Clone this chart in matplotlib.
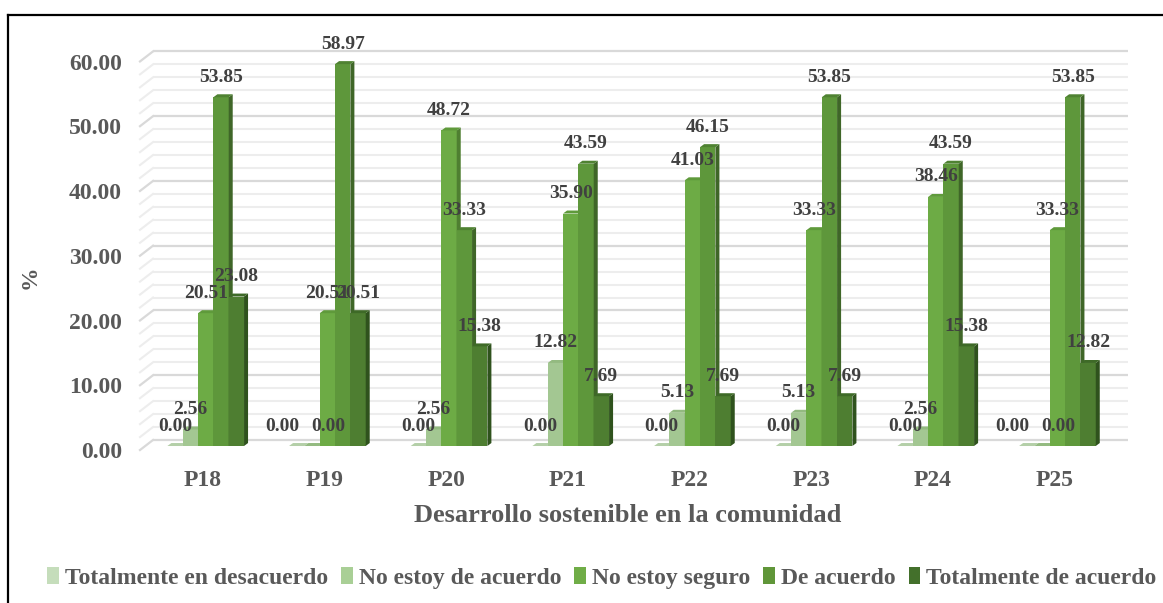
import matplotlib
matplotlib.use("Agg")
import matplotlib.pyplot as plt
from matplotlib.lines import Line2D
from matplotlib.patches import Patch, Polygon
from matplotlib.transforms import ScaledTranslation

plt.rcParams['font.family'] = ['Liberation Serif', 'DejaVu Serif']

categories = ["P18", "P19", "P20", "P21", "P22", "P23", "P24", "P25"]
series_names = ["Totalmente en desacuerdo", "No estoy de acuerdo", "No estoy seguro", "De acuerdo", "Totalmente de acuerdo"]
totalmente_desacuerdo = [0.00, 0.00, 0.00, 0.00, 0.00, 0.00, 0.00, 0.00]
no_de_acuerdo = [2.56, 0.00, 2.56, 12.82, 5.13, 5.13, 2.56, 0.00]
no_seguro = [20.51, 20.51, 48.72, 35.90, 41.03, 33.33, 38.46, 33.33]
de_acuerdo = [53.85, 58.97, 33.33, 43.59, 46.15, 53.85, 43.59, 53.85]
totalmente_acuerdo = [23.08, 20.51, 15.38, 7.69, 7.69, 7.69, 15.38, 12.82]
all_series = [totalmente_desacuerdo, no_de_acuerdo, no_seguro, de_acuerdo, totalmente_acuerdo]

front_colors = ["#C5DDBB", "#A3C792", "#6DAB45", "#5E973B", "#4E7E31"]
side_colors = ["#8FAF83", "#7C9E6C", "#4F7F31", "#3F6628", "#2F521D"]
top_colors = ["#B4CFA8", "#93BA80", "#5F9A3B", "#4F8232", "#3E6A27"]
legend_colors = ["#C5DDBB", "#A9CF96", "#70AD47", "#609639", "#43702B"]
text_color = "#595959"

W, H = 1163, 603
fig = plt.figure(figsize=(W / 100, H / 100), dpi=100)

# axes in pixels of the picture: y=0 sits on 446, 6.48 px per unit
left, right, top = 140, 1128, 38
ylow = -1.0
yhigh = 63.0
bottom = 446 + 6.48
ax = fig.add_axes([left / W, 1 - bottom / H, (right - left) / W, (bottom - top) / H])
ax.set_xlim(-0.54, 7.58)
ax.set_ylim(ylow, yhigh)
for sp in ax.spines.values():
    sp.set_visible(False)
ax.patch.set_alpha(0)

bar_w = 0.126
depth_x = 0.033
depth_y = 0.46
wall_x = 0.107
wall_y = 0.93
floor_y = -0.62

# back wall grid, with the little diagonal on the left
for g in range(0, 61, 2):
    major = g % 10 == 0
    c = "#D9D9D9" if major else "#EDEDED"
    lw = 1.6 if major else 1.5
    ax.plot([-0.54 + wall_x, 7.58], [g + wall_y, g + wall_y], color=c, lw=lw, zorder=1, solid_capstyle="butt")
    ax.plot([-0.54, -0.54 + wall_x], [g + floor_y, g + wall_y], color=c, lw=lw, zorder=1, clip_on=False)

z = 5
for i in range(len(categories)):
    for s in range(len(all_series)):
        v = all_series[s][i]
        x0 = i + (s - 2.5) * bar_w
        x1 = x0 + bar_w
        ax.bar(x0, v, width=bar_w, align="edge", color=front_colors[s], linewidth=0, zorder=z)
        ax.add_patch(Polygon([(x1, 0), (x1 + depth_x, depth_y), (x1 + depth_x, v + depth_y), (x1, v)],
                             facecolor=side_colors[s], linewidth=0, zorder=z))
        ax.add_patch(Polygon([(x0, v), (x1, v), (x1 + depth_x, v + depth_y), (x0 + depth_x, v + depth_y)],
                             facecolor=top_colors[s], linewidth=0, zorder=z))
        z += 1

# value labels, the two zeros get pushed apart where both are 0
for i in range(len(categories)):
    both_zero = all_series[0][i] == 0 and all_series[1][i] == 0
    for s in range(len(all_series)):
        v = all_series[s][i]
        x = i + (s - 2) * bar_w
        dx = 0
        if both_zero and s == 0:
            dx = -14
        if both_zero and s == 1:
            dx = 16
        ax.annotate("%.2f" % v, (x, v), xytext=(dx * 0.72, 20 * 0.72), textcoords="offset points",
                    ha="center", va="center", fontsize=14, fontweight="bold", color="#404040", zorder=500)

ax.set_yticks(range(0, 61, 10))
ax.set_yticklabels(["%.2f" % t for t in range(0, 61, 10)], fontsize=17, fontweight="bold", color=text_color)
ax.set_xticks(range(len(categories)))
ax.set_xticklabels(categories, fontsize=17, fontweight="bold", color=text_color)
ax.tick_params(axis="both", length=0)
ax.tick_params(axis="y", pad=13)
ax.tick_params(axis="x", pad=12.5)
for lab in ax.get_yticklabels():
    lab.set_transform(lab.get_transform() + ScaledTranslation(0, -3 / 72, fig.dpi_scale_trans))
for lab in ax.get_xticklabels():
    lab.set_transform(lab.get_transform() + ScaledTranslation(-3 / 100, 0, fig.dpi_scale_trans))

fig.text(628 / W, 1 - 516 / H, "Desarrollo sostenible en la comunidad", ha="center", va="center",
         fontsize=19, fontweight="bold", color=text_color)
fig.text(30 / W, 1 - 277 / H, "%", rotation=90, ha="center", va="center",
         fontsize=17, fontweight="bold", color=text_color)

handles = [Patch(facecolor=legend_colors[k], label=series_names[k]) for k in range(5)]
leg = fig.legend(handles=handles, loc="center", bbox_to_anchor=(602 / W, 1 - 578 / H), ncol=5, frameon=False,
                 prop={"size": 17, "weight": "bold"}, handlelength=0.5, handleheight=0.75, handletextpad=0.25,
                 columnspacing=0.55, borderpad=0)
for t in leg.get_texts():
    t.set_color(text_color)

# black frame of the picture, only top and left show
fig.add_artist(Line2D([8 / W, 1], [1 - 14.5 / H, 1 - 14.5 / H], color="black", lw=1.6))
fig.add_artist(Line2D([8 / W, 8 / W], [1 - 14.5 / H, 0], color="black", lw=1.6))

fig.savefig("out.png", dpi=100)
